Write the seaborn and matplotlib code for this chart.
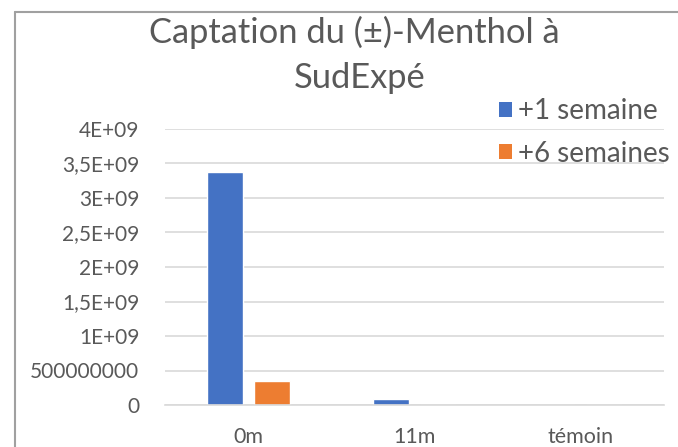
import matplotlib
matplotlib.use("Agg")
import matplotlib.pyplot as plt
import seaborn as sns
import pandas as pd
from matplotlib.lines import Line2D
from matplotlib.patches import Patch

categories = ["0m", "11m", "témoin"]
series_names = ["+1 semaine", "+6 semaines"]
values_1sem = [3.37e9, 8.5e7, 0.0]
values_6sem = [3.5e8, 0.0, 0.0]
ytick_values = [0, 5e8, 1e9, 1.5e9, 2e9, 2.5e9, 3e9, 3.5e9, 4e9]
ytick_labels = ["0", "500000000", "1E+09", "1,5E+09", "2E+09", "2,5E+09", "3E+09", "3,5E+09", "4E+09"]
title_lines = ["Captation du (±)-Menthol à", "SudExpé"]
colors = ["#4472C4", "#ED7D31"]

df = pd.DataFrame({
    "cat": categories * 2,
    "serie": [series_names[0]] * 3 + [series_names[1]] * 3,
    "val": values_1sem + values_6sem,
})

sns.set_theme(style="white")
plt.rcParams["font.family"] = ["Lato", "DejaVu Sans"]
text_col = "#595959"
grid_col = "#d9d9d9"

W, H = 678, 447
fig = plt.figure(figsize=(W / 100, H / 100), dpi=100)
ax = fig.add_axes([165 / W, 1 - 405 / H, (664 - 165) / W, (405 - 129) / H])

sns.barplot(data=df, x="cat", y="val", hue="serie", palette=colors, ax=ax,
            width=0.566, gap=0.233, legend=False, saturation=1, errorbar=None)

ax.set_ylim(0, 4e9)
ax.set_xlim(-0.5, 2.5)
ax.set_yticks(ytick_values)
ax.set_yticklabels(ytick_labels)
ax.set_xlabel("")
ax.set_ylabel("")
ax.yaxis.grid(True, color=grid_col, linewidth=1.2)
ax.set_axisbelow(True)
for s in ["top", "right", "left"]:
    ax.spines[s].set_visible(False)
ax.spines["bottom"].set_color(grid_col)
ax.spines["bottom"].set_linewidth(1.2)
ax.tick_params(axis="y", length=0, pad=18.5, labelsize=15, labelcolor=text_col)
ax.tick_params(axis="x", length=0, pad=16, labelsize=15.5, labelcolor=text_col)

# title
fig.text(354 / W, 1 - 43 / H, title_lines[0], ha="center", va="baseline",
         fontsize=24.8, color=text_col)
fig.text(360 / W, 1 - 88 / H, title_lines[1], ha="center", va="baseline",
         fontsize=24.8, color=text_col)

# legend
handles = [Patch(facecolor=c, edgecolor="none") for c in colors]
leg = fig.legend(handles, series_names, loc="upper left",
                 bbox_to_anchor=(499 / W, 1 - 98 / H), bbox_transform=fig.transFigure,
                 frameon=False, fontsize=20, handlelength=0.45, handleheight=0.45,
                 handletextpad=0.25, labelspacing=0.6, borderaxespad=0, borderpad=0)
for t in leg.get_texts():
    t.set_color(text_col)

# chart border (cropped at right/bottom)
fig.add_artist(Line2D([15 / W, 15 / W], [0, 1 - 12 / H], transform=fig.transFigure,
                      color="#a0a0a0", linewidth=1.5))
fig.add_artist(Line2D([15 / W, 1], [1 - 12 / H, 1 - 12 / H], transform=fig.transFigure,
                      color="#a0a0a0", linewidth=1.5))

fig.savefig("out.png", dpi=100)
